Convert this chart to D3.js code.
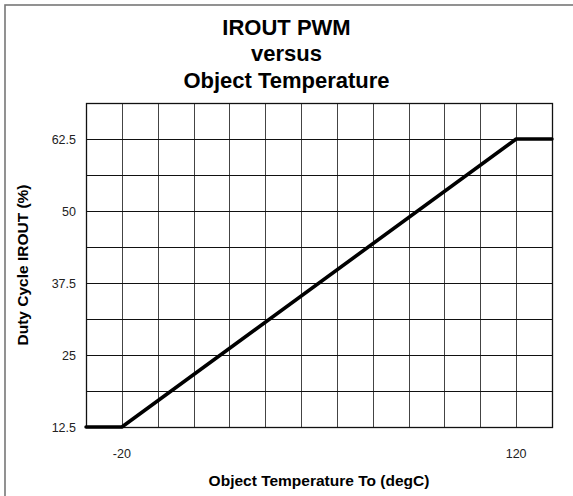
<!DOCTYPE html>
<html>
<head>
<meta charset="utf-8">
<script src="https://cdn.jsdelivr.net/npm/d3@7"></script>
<style>
  html, body { margin: 0; padding: 0; background: #fff; }
  svg text { font-family: "Liberation Sans", Arial, sans-serif; }
</style>
</head>
<body>
<div id="chart"></div>
<script>
// data
var tempPoints = [-32.7, -20, 120, 132.7];   // degC
var dutyPoints = [12.5, 12.5, 62.5, 62.5];   // %
var xTickLabels = [-20, 120];
var yTickLabels = [12.5, 25, 37.5, 50, 62.5];
var titleLines = ["IROUT PWM", "versus", "Object Temperature"];

var W = 573, H = 496;
var margin = { top: 103, right: 21, bottom: 69, left: 86 };
var width = W - margin.left - margin.right;
var height = H - margin.top - margin.bottom;

var xDomain = [-20 - 140 / 11, 120 + 140 / 11];
var yDomain = [12.5, 68.75];

var x = d3.scaleLinear().domain(xDomain).range([0, width]);
var y = d3.scaleLinear().domain(yDomain).range([height, 0]);

var root = d3.select("#chart").append("svg")
  .attr("width", W)
  .attr("height", H);

// outer frame
root.append("rect")
  .attr("x", 5).attr("y", 5)
  .attr("width", W + 10).attr("height", H + 10)
  .attr("fill", "none")
  .attr("stroke", "#777")
  .attr("stroke-width", 1.6);

// title
root.append("g").selectAll("text")
  .data(titleLines)
  .enter().append("text")
  .attr("x", W / 2)
  .attr("y", function (d, i) { return 35 + i * 26.3; })
  .attr("text-anchor", "middle")
  .style("font-size", "22px")
  .style("font-weight", "bold")
  .text(function (d) { return d; });

var svg = root.append("g")
  .attr("transform", "translate(" + margin.left + "," + margin.top + ")");

// grid
var xGrid = d3.range(0, 14).map(function (i) { return xDomain[0] + i * (xDomain[1] - xDomain[0]) / 13; });
var yGrid = d3.range(yDomain[0], yDomain[1] + 0.01, 6.25);

svg.append("g").selectAll("line")
  .data(xGrid)
  .enter().append("line")
  .attr("x1", function (d) { return Math.round(x(d)) + 0.5; })
  .attr("x2", function (d) { return Math.round(x(d)) + 0.5; })
  .attr("y1", 0).attr("y2", height)
  .attr("stroke", "#444")
  .attr("stroke-width", 1);

svg.append("g").selectAll("line")
  .data(yGrid)
  .enter().append("line")
  .attr("y1", function (d) { return Math.round(y(d)) + 0.5; })
  .attr("y2", function (d) { return Math.round(y(d)) + 0.5; })
  .attr("x1", 0).attr("x2", width)
  .attr("stroke", "#111")
  .attr("stroke-width", 1);

// plot frame
svg.append("rect")
  .attr("x", 0.5).attr("y", 0.5)
  .attr("width", width).attr("height", height)
  .attr("fill", "none")
  .attr("stroke", "#111")
  .attr("stroke-width", 1.3);

// tick labels
svg.append("g").selectAll("text")
  .data(yTickLabels)
  .enter().append("text")
  .attr("x", -10)
  .attr("y", function (d) { return y(d); })
  .attr("dy", "0.36em")
  .attr("text-anchor", "end")
  .style("font-size", "12.5px")
  .style("fill", "#222")
  .text(function (d) { return d; });

svg.append("g").selectAll("text")
  .data(xTickLabels)
  .enter().append("text")
  .attr("x", function (d) { return x(d); })
  .attr("y", height + 31)
  .attr("text-anchor", "middle")
  .style("font-size", "12.5px")
  .style("fill", "#222")
  .text(function (d) { return d; });

// axis titles
svg.append("text")
  .attr("x", width / 2)
  .attr("y", height + 59)
  .attr("text-anchor", "middle")
  .style("font-size", "15.5px")
  .style("font-weight", "bold")
  .text("Object Temperature To (degC)");

svg.append("text")
  .attr("transform", "translate(" + (-58) + "," + (height / 2) + ") rotate(-90)")
  .attr("text-anchor", "middle")
  .style("font-size", "15.5px")
  .style("font-weight", "bold")
  .text("Duty Cycle IROUT (%)");

// the curve
var line = d3.line()
  .x(function (d) { return x(d[0]); })
  .y(function (d) { return y(d[1]); });

svg.append("path")
  .datum(d3.zip(tempPoints, dutyPoints))
  .attr("d", line)
  .attr("fill", "none")
  .attr("stroke", "#000")
  .attr("stroke-width", 3.6)
  .attr("stroke-linecap", "round")
  .attr("stroke-linejoin", "round");
</script>
</body>
</html>
